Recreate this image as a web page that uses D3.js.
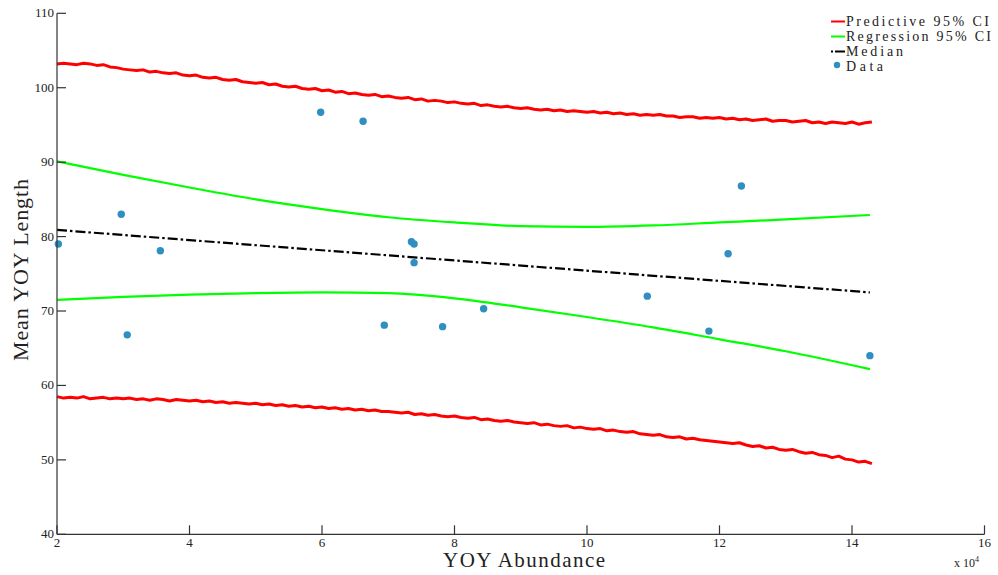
<!DOCTYPE html>
<html><head><meta charset="utf-8">
<script src="https://cdn.jsdelivr.net/npm/d3@7"></script>
<style>body{margin:0;background:#fff}svg{display:block}text{font-family:"Liberation Serif","DejaVu Serif",serif;fill:#222}</style>
</head><body>
<script>
// ---- data ----
const dataX = [2.02,2.97,3.06,3.56,5.98,6.62,6.94,7.35,7.39,7.39,7.82,8.44,10.91,11.84,12.13,12.33,14.27];
const dataY = [79.0,83.0,66.8,78.1,96.7,95.5,68.1,79.3,79.0,76.5,67.9,70.3,72.0,67.3,77.7,86.8,64.0];
const medianX = [2, 14.27];
const medianY = [80.9, 72.5];
const regX = [2,3,4,5,6,7,8,9,10,11,12,13,14.27];
const regUpper = [90.1,88.3,86.6,85.0,83.7,82.6,81.9,81.4,81.3,81.5,81.9,82.3,82.9];
const regLower = [71.5,71.9,72.2,72.4,72.5,72.4,71.7,70.5,69.2,67.8,66.2,64.6,62.2];
const predStart = 2.0, predStep = 0.1;
const predUpper = [
103.2,103.3,103.2,103.1,103.3,103.2,103.0,103.1,102.8,102.7,
102.5,102.4,102.3,102.4,102.1,102.2,102.0,101.9,102.0,101.7,
101.6,101.7,101.4,101.3,101.4,101.1,101.0,101.1,100.8,100.7,
100.6,100.7,100.4,100.5,100.2,100.1,100.2,99.9,99.8,99.9,
99.6,99.7,99.4,99.5,99.2,99.3,99.1,99.0,99.1,98.8,
98.9,98.7,98.6,98.7,98.4,98.5,98.2,98.3,98.2,98.0,
98.1,97.9,97.8,97.9,97.6,97.7,97.5,97.4,97.5,97.3,
97.2,97.3,97.1,97.0,97.1,96.9,97.0,96.8,96.9,96.8,
96.7,96.8,96.6,96.7,96.5,96.6,96.4,96.5,96.3,96.4,
96.3,96.4,96.2,96.2,96.0,96.1,96.1,95.9,96.0,95.9,
96.0,95.8,95.9,95.7,95.8,95.6,95.7,95.8,95.5,95.6,
95.6,95.4,95.5,95.6,95.3,95.4,95.2,95.4,95.3,95.2,
95.4,95.1,95.3,95.4];
const predLower = [
58.5,58.3,58.4,58.3,58.5,58.2,58.3,58.4,58.2,58.3,
58.2,58.3,58.1,58.2,58.0,58.2,58.1,57.9,58.1,58.0,
57.9,58.0,57.8,57.9,57.7,57.8,57.6,57.7,57.6,57.5,
57.6,57.4,57.5,57.3,57.4,57.2,57.3,57.1,57.2,57.0,
57.1,56.9,57.0,56.8,56.9,56.7,56.8,56.6,56.7,56.5,
56.5,56.4,56.3,56.4,56.1,56.2,56.0,56.1,55.9,55.8,
55.9,55.7,55.6,55.7,55.4,55.5,55.3,55.2,55.3,55.1,
55.0,54.9,55.0,54.7,54.8,54.6,54.5,54.6,54.3,54.4,
54.2,54.1,54.2,53.9,54.0,53.8,53.7,53.8,53.5,53.4,
53.3,53.4,53.1,53.0,53.1,52.8,52.9,52.7,52.6,52.5,
52.4,52.3,52.2,52.3,52.0,51.8,51.9,51.6,51.7,51.4,
51.3,51.4,51.1,50.9,51.0,50.7,50.6,50.3,50.5,50.1,
50.0,49.7,49.8,49.5];
const xTicks = [2,4,6,8,10,12,14,16];
const yTicks = [40,50,60,70,80,90,100,110];
const legendLabels = ["Predictive 95% CI","Regression 95% CI","Median","Data"];
const legendWidths = [143,145,57,37];

// ---- drawing ----
const W = 998, H = 575;
const svg = d3.select("body").append("svg").attr("width", W).attr("height", H);
const x = d3.scaleLinear().domain([2,16]).range([57,984.5]);
const y = d3.scaleLinear().domain([40,110]).range([534.3,13.3]);

const g = svg.append("g");
const predLine = arr => d3.line().x((d,i)=>x(predStart+i*predStep)).y(d=>y(d))(arr);
[predUpper,predLower].forEach(a=>g.append("path").attr("d", predLine(a)).attr("fill","none")
  .attr("stroke","#ff0000").attr("stroke-width",3).attr("stroke-linejoin","round"));
const regLine = arr => d3.line().curve(d3.curveMonotoneX).x((d,i)=>x(regX[i])).y(d=>y(d))(arr);
[regUpper,regLower].forEach(a=>g.append("path").attr("d", regLine(a)).attr("fill","none")
  .attr("stroke","#00ff00").attr("stroke-width",2.2));
g.append("path").attr("d", d3.line().x((d,i)=>x(medianX[i])).y(d=>y(d))(medianY))
  .attr("fill","none").attr("stroke","#000").attr("stroke-width",2.2).attr("stroke-dasharray","10,3,2.5,3");
g.selectAll("circle.d").data(dataX).join("circle").attr("class","d")
  .attr("cx",(d)=>x(d)).attr("cy",(d,i)=>y(dataY[i])).attr("r",3.7).attr("fill","#2e8fc0");

// axes
const ax = svg.append("g").attr("stroke","#333").attr("stroke-width",1.2);
ax.append("line").attr("x1",x(2)).attr("x2",x(16)).attr("y1",y(40)).attr("y2",y(40));
ax.append("line").attr("x1",x(2)).attr("x2",x(2)).attr("y1",y(40)).attr("y2",y(110));
xTicks.forEach(t=>ax.append("line").attr("x1",x(t)).attr("x2",x(t)).attr("y1",y(40)).attr("y2",y(40)-9));
yTicks.forEach(t=>ax.append("line").attr("x1",x(2)).attr("x2",x(2)+9).attr("y1",y(t)).attr("y2",y(t)));
svg.selectAll("text.xt").data(xTicks).join("text").attr("class","xt")
  .attr("x",d=>x(d)).attr("y",y(40)+12.5).attr("text-anchor","middle").attr("font-size",13).text(d=>d);
svg.selectAll("text.yt").data(yTicks).join("text").attr("class","yt")
  .attr("x",x(2)-3).attr("y",d=>y(d)+4).attr("text-anchor","end").attr("font-size",13).text(d=>d);
const ex = svg.append("text").attr("x",954).attr("y",567).attr("font-size",12);
ex.append("tspan").text("x 10");
ex.append("tspan").attr("dy",-5).attr("font-size",8).text("4");

svg.append("text").attr("x",524).attr("y",567).attr("text-anchor","middle").attr("font-size",21)
  .attr("textLength",162).attr("lengthAdjust","spacing").text("YOY Abundance");
svg.append("text").attr("transform","translate(28,270) rotate(-90)").attr("text-anchor","middle").attr("font-size",22)
  .attr("textLength",182).attr("lengthAdjust","spacing").text("Mean YOY Length");

// legend
const lg = svg.append("g");
const ly = [21.5,36.5,51.5,66.5];
const lcol = ["#ff0000","#00ff00","#000","#2e8fc0"];
legendLabels.forEach((lab,i)=>{
  if(i<3){
    lg.append("line").attr("x1",831).attr("x2",845).attr("y1",ly[i]).attr("y2",ly[i])
      .attr("stroke",lcol[i]).attr("stroke-width",2).attr("stroke-dasharray", i==2?"2,2,10,0":null);
  } else {
    lg.append("circle").attr("cx",837).attr("cy",ly[i]-1.5).attr("r",3.2).attr("fill",lcol[i]);
  }
  lg.append("text").attr("x",846).attr("y",ly[i]+4.5).attr("font-size",14)
    .attr("textLength",legendWidths[i]).attr("lengthAdjust","spacing").text(lab);
});
</script>
</body></html>
